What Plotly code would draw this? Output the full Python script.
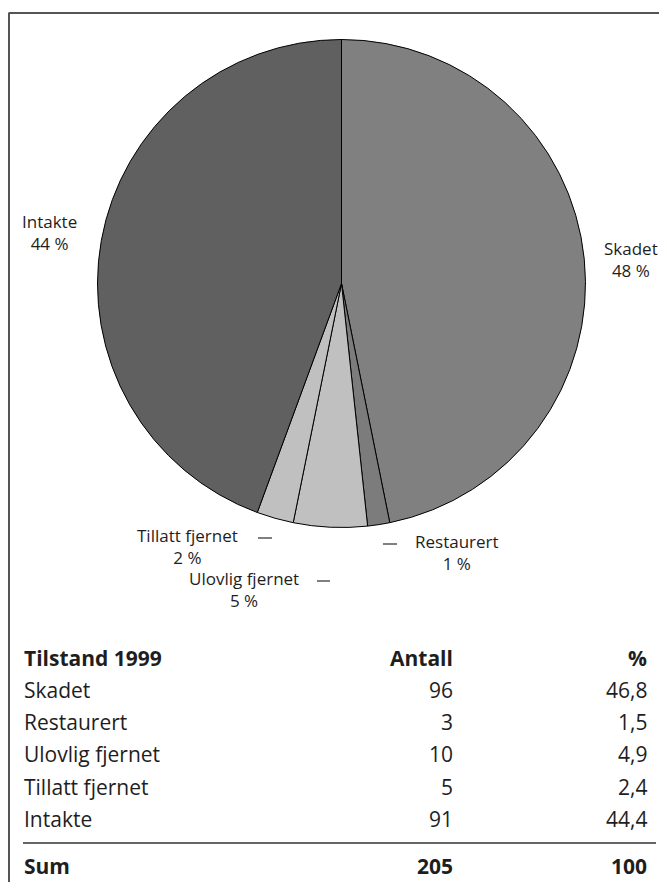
import plotly.graph_objects as go

# { data
kategorier = ['Skadet', 'Restaurert', 'Ulovlig fjernet', 'Tillatt fjernet', 'Intakte']
antall = [96, 3, 10, 5, 91]
prosent = ['46,8', '1,5', '4,9', '2,4', '44,4']
pie_prosent = ['48 %', '1 %', '5 %', '2 %', '44 %']  # rounded as printed on the pie
sum_antall = '205'
sum_prosent = '100'
farger = ['#808080', '#7c7c7c', '#c0c0c0', '#c0c0c0', '#606060']
# }

FONT = 'Open Sans'
INK = '#1e1e1e'

# page coords: axes are set so that (x, y) = pixel in the 667x890 page
X0, X1, Y0, Y1 = 8, 659, 8, 882
W, H = X1 - X0, Y1 - Y0


def px(x):
    return (x - X0) / W


def py(y):
    return (Y1 - y) / H


# { pie
cx, cy, r = 341.5, 283.5, 244
fig = go.Figure()
fig.add_trace(go.Pie(labels=kategorier,
                     values=antall,
                     sort=False,
                     direction='clockwise',
                     rotation=0,
                     textinfo='none',
                     hoverinfo='label+value',
                     marker=dict(colors=farger, line=dict(color='black', width=1)),
                     domain=dict(x=[px(cx - r), px(cx + r)], y=[py(cy + r), py(cy - r)]),
                     showlegend=False))
# }

annotations = []
shapes = []

# { pie labels (name + rounded percent, placed by hand like the original)
label_pos = {
    'Skadet': (631, 259),
    'Restaurert': (457, 552),
    'Ulovlig fjernet': (244, 589),
    'Tillatt fjernet': (187, 546),
    'Intakte': (49, 232),
}
for navn, pct in zip(kategorier, pie_prosent):
    x, y = label_pos[navn]
    annotations.append(dict(x=x, y=y, text=navn + '<br>' + pct, showarrow=False,
                            xanchor='center', yanchor='middle', align='center',
                            borderpad=0,
                            font=dict(family=FONT, size=17, color=INK)))

# leader dashes
for x_a, x_b, y in [(258, 272, 538), (317, 330, 581), (383, 397, 544)]:
    shapes.append(dict(type='line', xref='x', yref='y', x0=x_a, x1=x_b, y0=y, y1=y,
                       line=dict(color='black', width=1)))
# }

# { table
tx, ax_, pxr = 23, 454, 648
row0, step = 690, 32.2


def tekst(x, y, s, anchor, bold=False):
    annotations.append(dict(x=x, y=y, text='<b>%s</b>' % s if bold else s, showarrow=False,
                            xanchor=anchor, yanchor='middle', borderpad=0,
                            font=dict(family=FONT, size=21, color=INK)))


tekst(tx, 658, 'Tilstand 1999', 'left', True)
tekst(ax_, 658, 'Antall', 'right', True)
tekst(pxr, 658, '%', 'right', True)
for i, (k, a, p) in enumerate(zip(kategorier, antall, prosent)):
    y = row0 + i * step
    tekst(tx, y, k, 'left')
    tekst(ax_, y, str(a), 'right')
    tekst(pxr, y, p, 'right')

shapes.append(dict(type='line', xref='x', yref='y', x0=23, x1=656, y0=843, y1=843,
                   line=dict(color='#333333', width=1.5)))
tekst(tx, 866, 'Sum', 'left', True)
tekst(ax_, 866, sum_antall, 'right', True)
tekst(pxr, 866, sum_prosent, 'right', True)
# }

# { frame (top + left edge)
shapes.append(dict(type='line', xref='x', yref='y', x0=8.5, x1=667, y0=13, y1=13,
                   line=dict(color='#555555', width=2)))
shapes.append(dict(type='line', xref='x', yref='y', x0=9, x1=9, y0=13, y1=890,
                   line=dict(color='#555555', width=2)))
# }

fig.update_layout(width=W, height=H,
                  margin=dict(l=0, r=0, t=0, b=0),
                  paper_bgcolor='white', plot_bgcolor='white',
                  xaxis=dict(range=[X0, X1], visible=False, fixedrange=True),
                  yaxis=dict(range=[Y1, Y0], visible=False, fixedrange=True),
                  annotations=annotations,
                  shapes=shapes)

fig.write_html("out.html")
